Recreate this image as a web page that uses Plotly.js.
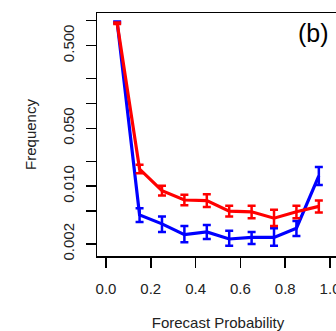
<!DOCTYPE html>
<html>
<head>
<meta charset="utf-8">
<script src="https://cdn.plot.ly/plotly-3.0.1.min.js"></script>
<style>
html,body{margin:0;padding:0;overflow:hidden;background:#fff;}
#chart{width:350px;height:331px;}
</style>
</head>
<body>
<div id="chart"></div>
<script>
// Forecast probability bin centres
var binCentres = [0.05, 0.15, 0.25, 0.35, 0.45, 0.55, 0.65, 0.75, 0.85, 0.95];

// Red series: frequency with lower / upper error limits
var redFreq = [0.93, 0.0161, 0.0088, 0.0068, 0.0067, 0.0050, 0.0049, 0.0041, 0.0049, 0.0057];
var redLo   = [0.91, 0.0143, 0.0077, 0.0059, 0.0056, 0.0043, 0.0041, 0.0033, 0.0041, 0.0048];
var redHi   = [0.95, 0.0181, 0.0101, 0.0079, 0.0080, 0.0058, 0.0058, 0.0052, 0.0058, 0.0067];

// Blue series: frequency with lower / upper error limits
var blueFreq = [0.96, 0.0045, 0.0035, 0.0026, 0.0028, 0.0023, 0.0024, 0.0024, 0.0031, 0.0133];
var blueLo   = [0.94, 0.0037, 0.0028, 0.0021, 0.0023, 0.0019, 0.0020, 0.0019, 0.0025, 0.0103];
var blueHi   = [0.98, 0.0054, 0.0043, 0.0033, 0.0034, 0.0029, 0.0028, 0.0031, 0.0038, 0.0171];

// Tick labels
var xTickVals = [0, 0.2, 0.4, 0.6, 0.8, 1.0];
var xTickText = ['0.0', '0.2', '0.4', '0.6', '0.8', '1.0'];
var yTickVals = [1, 0.5, 0.2, 0.1, 0.05, 0.02, 0.01, 0.005, 0.002];
var yTickText = ['', '0.500', '', '', '0.050', '', '0.010', '', '0.002'];

function errs(v, lo, hi) {
  return {
    type: 'data', symmetric: false,
    array: v.map(function (d, i) { return hi[i] - d; }),
    arrayminus: v.map(function (d, i) { return d - lo[i]; })
  };
}

var blueErr = errs(blueFreq, blueLo, blueHi);
blueErr.color = '#0000ff'; blueErr.thickness = 2.5; blueErr.width = 4;
var redErr = errs(redFreq, redLo, redHi);
redErr.color = '#ff0000'; redErr.thickness = 2.5; redErr.width = 4;

var traces = [
  {x: binCentres, y: blueFreq, type: 'scatter', mode: 'lines',
   line: {color: '#0000ff', width: 3.2}, error_y: blueErr, hoverinfo: 'skip'},
  {x: binCentres, y: redFreq, type: 'scatter', mode: 'lines',
   line: {color: '#ff0000', width: 3.2}, error_y: redErr, hoverinfo: 'skip'}
];

var font = {family: '"Liberation Sans", Arial, Helvetica, sans-serif', size: 15, color: '#222'};

var layout = {
  width: 350, height: 331,
  margin: {l: 97, r: 11, t: 13, b: 75},
  paper_bgcolor: '#fff', plot_bgcolor: '#fff',
  showlegend: false,
  font: font,
  xaxis: {
    range: [-0.04, 1.04], tickmode: 'array', tickvals: xTickVals, ticktext: xTickText,
    ticks: 'outside', ticklen: 10, tickwidth: 1.5, tickcolor: '#000',
    showline: true, mirror: true, linewidth: 1.5, linecolor: '#000',
    showgrid: false, zeroline: false, ticklabelstandoff: 8,
    tickfont: font,
    title: {text: 'Forecast Probability', font: font, standoff: 22}
  },
  yaxis: {
    type: 'log', range: [-2.844, 0.093], tickmode: 'array', tickvals: yTickVals, ticktext: yTickText,
    tickangle: -90,
    ticks: 'outside', ticklen: 10, tickwidth: 1.5, tickcolor: '#000',
    showline: true, mirror: true, linewidth: 1.5, linecolor: '#000',
    showgrid: false, zeroline: false, ticklabelstandoff: 6,
    tickfont: font,
    title: {text: 'Frequency', font: font, standoff: 19}
  },
  annotations: [{
    text: '(b)', xref: 'paper', yref: 'paper', x: 0.893, y: 0.918,
    xanchor: 'center', yanchor: 'middle', showarrow: false,
    font: {family: font.family, size: 25, color: '#000'}
  }]
};

Plotly.newPlot('chart', traces, layout, {staticPlot: true, displayModeBar: false});
</script>
</body>
</html>
